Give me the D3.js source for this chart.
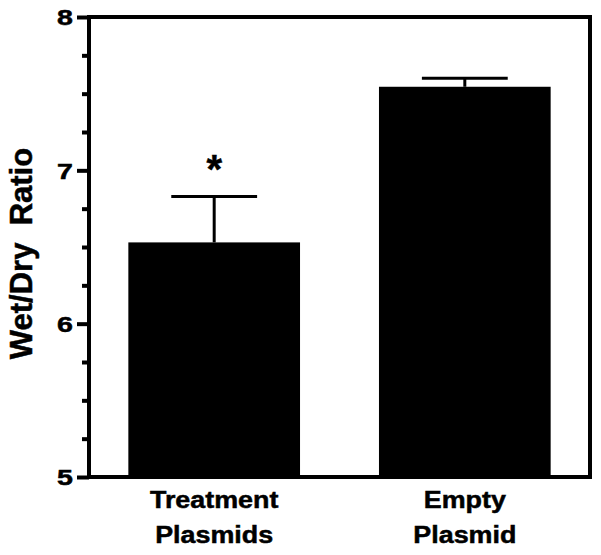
<!DOCTYPE html>
<html>
<head>
<meta charset="utf-8">
<script src="https://cdn.jsdelivr.net/npm/d3@7"></script>
<style>
  html, body { margin: 0; padding: 0; background: #fff; }
  svg { display: block; }
  text { font-family: Arial, "Liberation Sans", sans-serif; font-weight: bold; fill: #000; stroke: #000; stroke-width: 0.5px; }
</style>
</head>
<body>
<script>
const categories = [["Treatment", "Plasmids"], ["Empty", "Plasmid"]];
const means = [6.53, 7.545];
const errors = [0.30, 0.055];
const significance = ["*", ""];
const yTicks = [5, 6, 7, 8];
const yMinorTicks = [5.25, 5.5, 5.75, 6.25, 6.5, 6.75, 7.25, 7.5, 7.75];
const yLabel = "Wet/Dry  Ratio";

(function () {
const W = 601, H = 555;
const pL = 89, pR = 590, pT = 17, pB = 477;

const svg = d3.select("body").append("svg").attr("width", W).attr("height", H);

const y = d3.scaleLinear().domain([5, 8]).range([pB, pT]);
const x = d3.scaleBand().domain(d3.range(categories.length))
  .range([pL, pR]).paddingInner(0.315).paddingOuter(0.157);

// bars
svg.selectAll("rect.bar").data(means).join("rect")
  .attr("class", "bar")
  .attr("x", (d, i) => x(i))
  .attr("width", x.bandwidth())
  .attr("y", d => y(d))
  .attr("height", d => y(5) - y(d))
  .attr("fill", "#000");

// error bars (upper only)
const capHalf = x.bandwidth() / 4;
means.forEach((m, i) => {
  const cx = x(i) + x.bandwidth() / 2;
  svg.append("line").attr("x1", cx).attr("x2", cx)
    .attr("y1", y(m)).attr("y2", y(m + errors[i]))
    .attr("stroke", "#000").attr("stroke-width", 3);
  svg.append("line").attr("x1", cx - capHalf).attr("x2", cx + capHalf)
    .attr("y1", y(m + errors[i])).attr("y2", y(m + errors[i]))
    .attr("stroke", "#000").attr("stroke-width", 3);
  if (significance[i]) {
    svg.append("text").attr("x", cx).attr("y", y(m + errors[i]) - 13)
      .attr("text-anchor", "middle").style("font-size", "40px")
      .text(significance[i]);
  }
});

// frame
const frame = svg.append("g").attr("stroke", "#000").attr("stroke-width", 4).attr("fill", "none");
frame.append("line").attr("x1", pL).attr("x2", pL).attr("y1", pT - 2).attr("y2", pB + 2);
frame.append("line").attr("x1", pL - 2).attr("x2", pR + 2).attr("y1", pT).attr("y2", pT);
frame.append("line").attr("x1", pR).attr("x2", pR).attr("y1", pT - 2).attr("y2", pB + 2);
frame.append("line").attr("x1", pL - 2).attr("x2", pR + 2).attr("y1", pB).attr("y2", pB);

// y axis ticks
const axis = d3.axisLeft(y).tickValues(yTicks).tickSize(12).tickPadding(4).tickFormat(d3.format("d"));
const gA = svg.append("g").attr("transform", `translate(${pL},0)`).call(axis);
gA.attr("font-size", null).attr("font-family", null);
gA.select(".domain").remove();
gA.selectAll(".tick line").attr("stroke", "#000").attr("stroke-width", 4);
gA.selectAll(".tick text")
  .style("font-size", "22px")
  .attr("x", 0)
  .attr("transform", "translate(-16,0) scale(1.3,1)")
  .attr("fill", "#000").attr("dy", "0.36em");

const minor = d3.axisLeft(y).tickValues(yMinorTicks).tickSize(7).tickFormat("");
const gM = svg.append("g").attr("transform", `translate(${pL},0)`).call(minor);
gM.select(".domain").remove();
gM.selectAll(".tick line").attr("stroke", "#000").attr("stroke-width", 4);

// x labels
categories.forEach((lines, i) => {
  const cx = x(i) + x.bandwidth() / 2;
  const t = svg.append("text").attr("text-anchor", "middle").style("font-size", "24px")
    .attr("transform", `translate(${cx},0) scale(1.12,1)`);
  lines.forEach((ln, j) => {
    t.append("tspan").attr("x", 0).attr("y", 508 + j * 35).text(ln);
  });
});

// y label
svg.append("text")
  .attr("transform", `translate(32,${(142 + 365) / 2}) rotate(-90)`)
  .attr("text-anchor", "middle")
  .style("font-size", "31px")
  .style("white-space", "pre")
  .text(yLabel);
})();
</script>
</body>
</html>
